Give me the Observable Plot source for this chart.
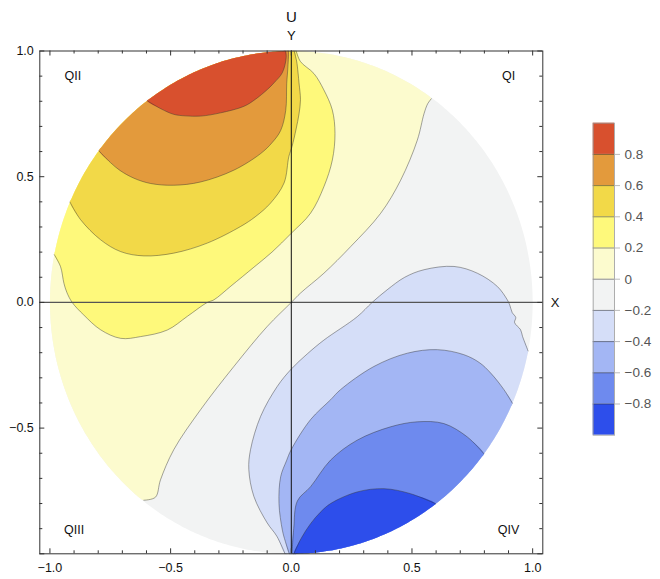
<!DOCTYPE html>
<html><head><meta charset="utf-8">
<script src="https://cdn.jsdelivr.net/npm/d3@7"></script>
<script src="https://cdn.jsdelivr.net/npm/@observablehq/plot@0.6"></script>
<style>
html,body{margin:0;padding:0;background:#fff;}
#wrap{position:relative;width:660px;height:579px;overflow:hidden;}
#wrap svg{position:absolute;}
</style></head><body><div id="wrap"></div>
<script>
// ---- data ----
const levels = [-1, -0.8, -0.6, -0.4, -0.2, 0, 0.2, 0.4, 0.6, 0.8, 1];
const bandColors = ["#2D4EEB", "#6E8AEE", "#A3B6F4", "#D5DEF8", "#F2F3F3", "#FCFBCE", "#FEF97B", "#F2D948", "#E39A3C", "#D8502E"];
const colorbarTicks = [-0.8, -0.6, -0.4, -0.2, 0, 0.2, 0.4, 0.6, 0.8];

// contour curves (x, y in data units), each ends on the unit circle
const contourP08 = [[-0.024,0.9997],[-0.021,0.975],[-0.037,0.914],[-0.07,0.875],[-0.099,0.847],[-0.15,0.807],[-0.196,0.78],[-0.293,0.754],[-0.376,0.741],[-0.44,0.742],[-0.487,0.748],[-0.54,0.77],[-0.597,0.802]];
const contourP06 = [[-0.012,0.9999],[-0.014,0.937],[-0.019,0.87],[-0.023,0.764],[-0.044,0.684],[-0.08,0.635],[-0.127,0.592],[-0.238,0.526],[-0.376,0.479],[-0.487,0.466],[-0.583,0.473],[-0.652,0.494],[-0.71,0.525],[-0.749,0.556],[-0.797,0.603]];
const contourP04 = [[0.012,0.9999],[0.022,0.96],[0.025,0.94],[0.032,0.873],[0.038,0.806],[0.032,0.75],[0.02,0.69],[0.003,0.62],[-0.01,0.581],[-0.03,0.475],[-0.086,0.395],[-0.15,0.34],[-0.21,0.302],[-0.348,0.236],[-0.487,0.196],[-0.611,0.185],[-0.707,0.202],[-0.79,0.249],[-0.873,0.329],[-0.917,0.399]];
const contourP02 = [[0.02,0.9998],[0.038,0.958],[0.094,0.91],[0.135,0.845],[0.17,0.765],[0.181,0.672],[0.17,0.566],[0.135,0.46],[0.08,0.355],[0,0.275],[-0.08,0.2],[-0.155,0.14],[-0.25,0.065],[-0.321,0.01],[-0.348,0],[-0.43,-0.055],[-0.514,-0.11],[-0.624,-0.136],[-0.707,-0.143],[-0.79,-0.109],[-0.86,-0.05],[-0.908,0],[-0.93,0.04],[-0.942,0.076],[-0.956,0.142],[-0.982,0.19]];
const contourZero = [[0.58,0.81],[0.565,0.79],[0.55,0.751],[0.522,0.645],[0.453,0.486],[0.37,0.354],[0.246,0.222],[0.135,0.116],[0.038,0.037],[0,0],[-0.1,-0.096],[-0.238,-0.255],[-0.376,-0.427],[-0.487,-0.586],[-0.542,-0.706],[-0.563,-0.775],[-0.611,-0.787]];
const contourM02 = [[-0.026,-0.9997],[-0.06,-0.93],[-0.1,-0.877],[-0.155,-0.772],[-0.176,-0.665],[-0.169,-0.586],[-0.127,-0.453],[-0.058,-0.334],[0,-0.265],[0.066,-0.205],[0.135,-0.15],[0.273,-0.057],[0.335,0],[0.397,0.05],[0.47,0.1],[0.55,0.13],[0.674,0.143],[0.771,0.116],[0.854,0.063],[0.895,0.01],[0.905,-0.01],[0.915,-0.04],[0.93,-0.06],[0.925,-0.08],[0.95,-0.109],[0.958,-0.135],[0.981,-0.193]];
const contourM04 = [[-0.008,-0.9999],[-0.025,-0.95],[-0.037,-0.906],[-0.051,-0.8],[-0.044,-0.693],[-0.02,-0.63],[0,-0.585],[0.08,-0.466],[0.163,-0.387],[0.204,-0.347],[0.342,-0.255],[0.481,-0.202],[0.605,-0.188],[0.715,-0.208],[0.78,-0.24],[0.826,-0.281],[0.881,-0.347],[0.916,-0.401]];
const contourM06 = [[0.003,-0.9999],[0.01,-0.9],[0.025,-0.79],[0.08,-0.733],[0.163,-0.627],[0.273,-0.548],[0.411,-0.495],[0.522,-0.475],[0.632,-0.482],[0.729,-0.535],[0.798,-0.602]];
const contourM08 = [[0.011,-0.9999],[0.04,-0.94],[0.08,-0.88],[0.12,-0.835],[0.163,-0.8],[0.273,-0.754],[0.384,-0.741],[0.494,-0.761],[0.598,-0.801]];

// band index (into bandColors) filled on the boundary side of each contour
const regions = [
  {contour: contourZero, band: 5},
  {contour: contourP02, band: 6},
  {contour: contourP04, band: 7},
  {contour: contourP06, band: 8},
  {contour: contourP08, band: 9},
  {contour: contourM02, band: 3},
  {contour: contourM04, band: 2},
  {contour: contourM06, band: 1},
  {contour: contourM08, band: 0}
];
const diskBand = 4;

const xMajor = [-1, -0.5, 0, 0.5, 1];
const yMajorLabels = [-0.5, 0, 0.5, 1];
const frameTicks = [-1,-0.9,-0.8,-0.7,-0.6,-0.5,-0.4,-0.3,-0.2,-0.1,0,0.1,0.2,0.3,0.4,0.5,0.6,0.7,0.8,0.9,1];
const quadrants = [
  {label: "QI", x: 0.9, y: 0.9},
  {label: "QII", x: -0.905, y: 0.9},
  {label: "QIII", x: -0.9, y: -0.905},
  {label: "QIV", x: 0.9, y: -0.905}
];

// ---- geometry helpers ----
const deg = Math.PI / 180;
const angleOf = p => { let a = Math.atan2(p[1], p[0]) / deg; return a < 0 ? a + 360 : a; };
function arc(a0, a1) {
  const n = Math.max(2, Math.ceil(Math.abs(a1 - a0)));
  const pts = [];
  for (let i = 0; i <= n; i++) { const a = (a0 + (a1 - a0) * i / n) * deg; pts.push([Math.cos(a), Math.sin(a)]); }
  return pts;
}
function regionPolygon(c) {
  const a0 = angleOf(c[c.length - 1]);
  let d = angleOf(c[0]) - a0;
  while (d > 0) d -= 360;
  while (d <= -360) d += 360;
  return c.concat(arc(a0, a0 + d).slice(1, -1));
}

const XMIN = -1.042, XMAX = 1.042, YMIN = -1, YMAX = 1;
const mL = 39.3, mR = 117.7, mT = 50.5, mB = 25.7, W = 660, H = 579;
const kx = (W - mL - mR) / (XMAX - XMIN), ky = (H - mT - mB) / (YMAX - YMIN);
const isMajor = d => Math.abs(d * 2 - Math.round(d * 2)) < 1e-9;
const tlen = d => isMajor(d) ? 5 : 3;
const fmt1 = d => d.toFixed(1).replace("-", "\u2212");
const FONT = "'Liberation Sans', Arial, Helvetica, sans-serif";

const polyMark = (pts, color) => Plot.line(pts, {x: d => d[0], y: d => d[1], fill: color, stroke: "none", curve: "catmull-rom-closed"});

const marks = [];
marks.push(polyMark(arc(0, 359), bandColors[diskBand]));
for (const r of regions) marks.push(polyMark(regionPolygon(r.contour), bandColors[r.band]));
for (const r of regions) marks.push(Plot.line(r.contour, {x: d => d[0], y: d => d[1], stroke: "#303030", strokeOpacity: 0.55, strokeWidth: 0.8, curve: "catmull-rom"}));
marks.push(
  Plot.ruleY([0], {stroke: "#555", strokeWidth: 1.4}),
  Plot.ruleX([0], {stroke: "#111", strokeWidth: 1}),
  Plot.frame({stroke: "#333"}),
  Plot.ruleX(frameTicks, {x: d => d, y1: YMIN, y2: d => YMIN + tlen(d) / ky, stroke: "#333"}),
  Plot.ruleX(frameTicks, {x: d => d, y1: d => YMAX - tlen(d) / ky, y2: YMAX, stroke: "#333"}),
  Plot.ruleY(frameTicks, {y: d => d, x1: XMIN, x2: d => XMIN + tlen(d) / kx, stroke: "#333"}),
  Plot.ruleY(frameTicks, {y: d => d, x1: d => XMAX - tlen(d) / kx, x2: XMAX, stroke: "#333"}),
  Plot.axisX({anchor: "bottom", ticks: xMajor, tickSize: 0, tickPadding: 9, tickFormat: fmt1, fill: "#111", fontSize: 12.5, label: null}),
  Plot.axisY({anchor: "left", ticks: yMajorLabels, tickSize: 0, tickPadding: 6, tickFormat: fmt1, fill: "#111", fontSize: 12.5, label: null}),
  Plot.text(quadrants, {x: "x", y: "y", text: "label", fill: "#111", fontSize: 12.5}),
  Plot.text(["X"], {y: 0, frameAnchor: "right", dx: 16.5, fill: "#111", fontSize: 13}),
  Plot.text(["Y"], {x: 0, frameAnchor: "top", dy: -20, fill: "#111", fontSize: 13}),
  Plot.text(["U"], {x: 0, frameAnchor: "top", dy: -40, fill: "#111", fontSize: 15})
);

const main = Plot.plot({
  width: W, height: H, marginLeft: mL, marginRight: mR, marginTop: mT, marginBottom: mB,
  x: {domain: [XMIN, XMAX], axis: null},
  y: {domain: [YMIN, YMAX], axis: null},
  style: {fontFamily: FONT, fontSize: "12.5px", background: "transparent", overflow: "visible"},
  marks
});
main.style.left = "0px"; main.style.top = "0px";

// ---- colorbar ----
const bands = bandColors.map((c, i) => ({lo: levels[i], hi: levels[i + 1], color: c}));
const fmtCb = d => d === 0 ? "0" : d.toFixed(1).replace("-", "\u2212");
const bar = Plot.plot({
  width: 90, height: 360, marginLeft: 12.7, marginRight: 56, marginTop: 22.7, marginBottom: 25.3,
  x: {domain: [0, 1], axis: null},
  y: {domain: [-1, 1], axis: null},
  color: {type: "identity"},
  style: {fontFamily: FONT, fontSize: "13.5px", background: "transparent", overflow: "visible"},
  marks: [
    Plot.rect(bands, {x1: 0, x2: 1, y1: "lo", y2: "hi", fill: "color"}),
    Plot.ruleY(colorbarTicks, {stroke: "#303030", strokeOpacity: 0.6, strokeWidth: 0.9}),
    Plot.frame({stroke: "#999", strokeOpacity: 0.8}),
    Plot.axisY({anchor: "right", ticks: colorbarTicks, tickSize: 5, tickPadding: 5, tickFormat: fmtCb, stroke: "#bbb", fill: "#555", fontSize: 13.5, label: null})
  ]
});
bar.style.left = "580px"; bar.style.top = "100px";

const wrap = document.getElementById("wrap");
wrap.appendChild(main);
wrap.appendChild(bar);
</script></body></html>
